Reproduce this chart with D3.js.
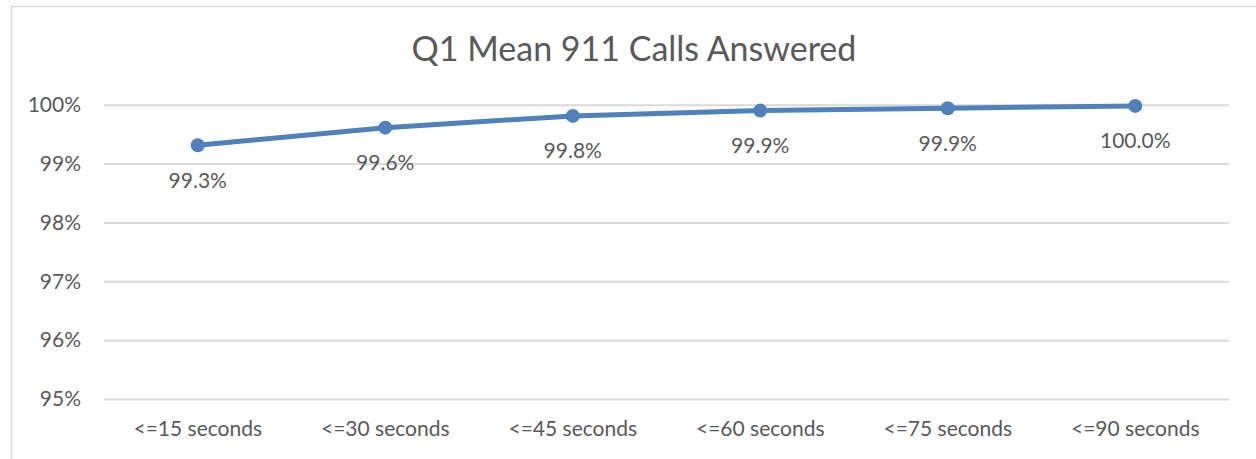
<!DOCTYPE html>
<html>
<head>
<meta charset="utf-8">
<script src="https://cdn.jsdelivr.net/npm/d3@7"></script>
<style>
  body { margin: 0; background: #fff; overflow: hidden; }
  #chart { width: 1256px; height: 459px; }
  #chart svg { display: block; }
  text { font-family: Lato, "Open Sans", sans-serif; fill: #595959; }
</style>
</head>
<body>
<div id="chart"></div>
<script>
const title = 'Q1 Mean 911 Calls Answered';
const categories = ['<=15 seconds', '<=30 seconds', '<=45 seconds', '<=60 seconds', '<=75 seconds', '<=90 seconds'];
const answered = [0.9931, 0.9961, 0.9981, 0.9990, 0.9994, 0.9998];
const yTicks = [0.95, 0.96, 0.97, 0.98, 0.99, 1.00];

const width = 1256;
const height = 459;

const svg = d3.select('#chart').append('svg')
  .attr('width', width)
  .attr('height', height);

// chart area border: only the left and top edges are in view
svg.append('path')
  .attr('d', `M11.5,${height}V6.5H${width}`)
  .attr('fill', 'none')
  .attr('stroke', '#d9d9d9')
  .attr('stroke-width', 1.5);

svg.append('text')
  .attr('x', 634)
  .attr('y', 61)
  .attr('text-anchor', 'middle')
  .style('font-size', '34px')
  .text(title);

const margin = {top: 104.7, left: 104, right: 1256 - 1229, bottom: 459 - 399};
const innerWidth = width - margin.left - margin.right;
const innerHeight = height - margin.top - margin.bottom;

const g = svg.append('g')
  .attr('transform', `translate(${margin.left}, ${margin.top})`);

const xScale = d3.scaleBand()
  .domain(categories)
  .range([0, innerWidth]);

const yScale = d3.scaleLinear()
  .domain([0.95, 1.0])
  .range([innerHeight, 0]);

// gridlines + y labels
const yAxisG = g.append('g')
  .call(d3.axisLeft(yScale)
    .tickValues(yTicks)
    .tickSize(-innerWidth)
    .tickPadding(23)
    .tickFormat(d3.format('.0%')));
yAxisG.select('.domain').remove();
yAxisG.selectAll('.tick line')
  .attr('stroke', '#d9d9d9')
  .attr('stroke-width', 2);
yAxisG.selectAll('.tick text')
  .style('font-size', '21px')
  .attr('fill', '#595959');

// x labels
const xAxisG = g.append('g')
  .attr('transform', `translate(0, ${innerHeight})`)
  .call(d3.axisBottom(xScale).tickSize(0).tickPadding(22));
xAxisG.select('.domain').remove();
xAxisG.selectAll('.tick text')
  .style('font-size', '21px')
  .attr('fill', '#595959');

const data = categories.map((c, i) => ({cat: c, value: answered[i]}));
const cx = d => xScale(d.cat) + xScale.bandwidth() / 2;

const lineGenerator = d3.line()
  .x(cx)
  .y(d => yScale(d.value));

g.append('path')
  .attr('d', lineGenerator(data))
  .attr('fill', 'none')
  .attr('stroke', '#4f81bd')
  .attr('stroke-width', 5)
  .attr('stroke-linejoin', 'round');

g.selectAll('circle')
  .data(data)
  .enter().append('circle')
  .attr('cx', cx)
  .attr('cy', d => yScale(d.value))
  .attr('r', 7)
  .attr('fill', '#4f81bd');

g.selectAll('.label')
  .data(data)
  .enter().append('text')
  .attr('class', 'label')
  .attr('x', cx)
  .attr('y', d => yScale(d.value) + 42.5)
  .attr('text-anchor', 'middle')
  .style('font-size', '21px')
  .text(d => d3.format('.1%')(d.value));
</script>
</body>
</html>
